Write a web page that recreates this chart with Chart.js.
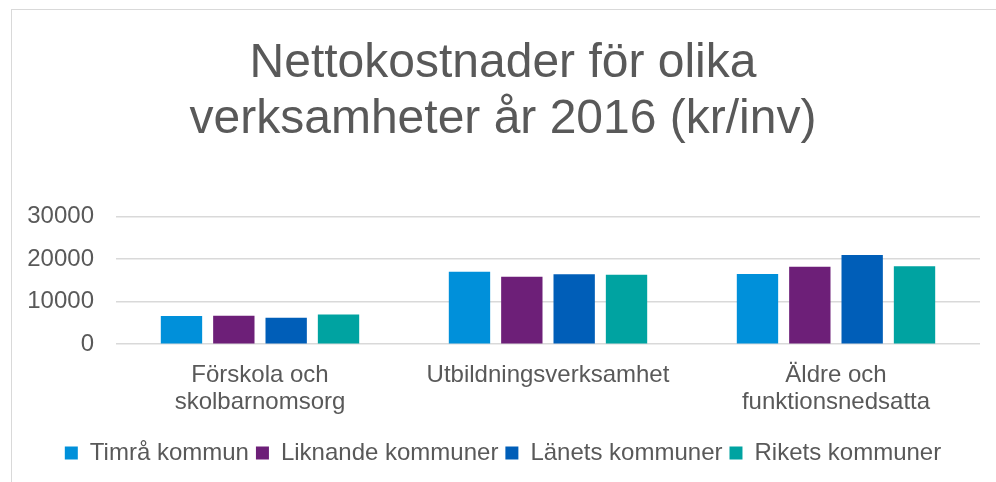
<!DOCTYPE html>
<html>
<head>
<meta charset="utf-8">
<script src="https://cdn.jsdelivr.net/npm/chart.js@4/dist/chart.umd.min.js"></script>
<style>
    html, body { margin: 0; padding: 0; background: #ffffff; overflow: hidden; }
    #wrap { position: relative; width: 996px; height: 482px; }
    #frame { position: absolute; left: 11px; top: 9px; width: 1100px; height: 600px; border: 1px solid #d9d9d9; }
    #bar-canvas { position: absolute; left: 0; top: 0; }
</style>
</head>
<body>
<div id="wrap">
    <div id="frame"></div>
    <canvas id="bar-canvas" width="996" height="482"></canvas>
</div>
<script>
var categories = [
    ['Förskola och', 'skolbarnomsorg'],
    'Utbildningsverksamhet',
    ['Äldre och', 'funktionsnedsatta']
];
var seriesNames = ['Timrå kommun', 'Liknande kommuner', 'Länets kommuner', 'Rikets kommuner'];
var timra = [6600, 17000, 16500];
var liknande = [6700, 15800, 18200];
var lanets = [6200, 16400, 20900];
var rikets = [7000, 16300, 18300];
var yTicks = [0, 10000, 20000, 30000];

var colors = ['#0090da', '#6d1f78', '#005eb8', '#00a3a1'];
var textColor = '#595959';

Chart.defaults.font.family = "'Liberation Sans', Arial, sans-serif";
Chart.defaults.color = textColor;

var values = [timra, liknande, lanets, rikets];
var datasets = seriesNames.map(function (name, i) {
    return {
        label: name,
        data: values[i],
        backgroundColor: colors[i],
        borderWidth: 0,
        categoryPercentage: 0.727,
        barPercentage: 0.79
    };
});

var barConfig = {
    type: 'bar',
    data: {
        labels: categories,
        datasets: datasets
    },
    options: {
        responsive: false,
        animation: false,
        layout: {
            padding: { left: 26, right: 16, top: 12, bottom: 7 }
        },
        plugins: {
            title: {
                display: true,
                text: ['Nettokostnader för olika', 'verksamheter år 2016 (kr/inv)'],
                color: textColor,
                font: { size: 48, weight: 'normal', lineHeight: 1.17 },
                padding: { top: 24, bottom: 68 }
            },
            legend: {
                position: 'bottom',
                labels: {
                    color: textColor,
                    font: { size: 24, lineHeight: 1.2 },
                    boxWidth: 13,
                    boxHeight: 13,
                    padding: 7
                }
            },
            tooltip: { enabled: false }
        },
        scales: {
            x: {
                grid: { display: false, drawTicks: false },
                border: { display: false },
                ticks: {
                    color: textColor,
                    font: { size: 24, lineHeight: 1.12 },
                    padding: 18,
                    maxRotation: 0
                }
            },
            y: {
                min: yTicks[0],
                max: yTicks[yTicks.length - 1],
                afterBuildTicks: function (axis) {
                    axis.ticks = yTicks.map(function (v) { return { value: v }; });
                },
                afterFit: function (axis) {
                    axis.width = 90;
                },
                grid: { color: '#d9d9d9', lineWidth: 1.5, drawTicks: false },
                border: { display: false },
                ticks: {
                    color: textColor,
                    font: { size: 24 },
                    padding: 22,
                    callback: function (value) { return String(value); }
                }
            }
        }
    }
};

var ctx = document.getElementById('bar-canvas').getContext('2d');
window.myBar = new Chart(ctx, barConfig);
</script>
</body>
</html>
